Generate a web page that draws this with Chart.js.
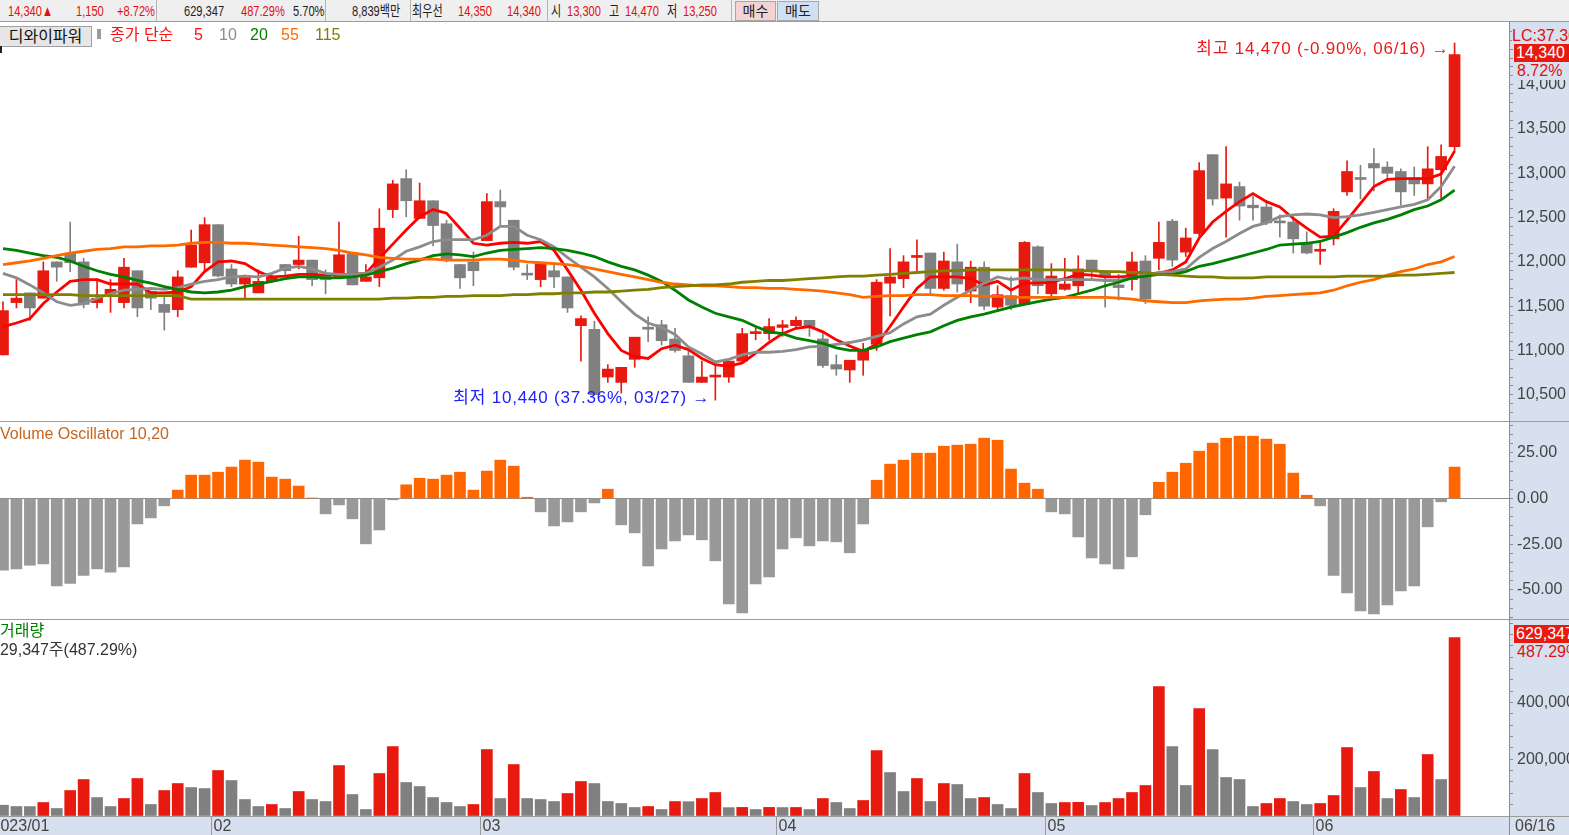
<!DOCTYPE html>
<html>
<head>
<meta charset="utf-8">
<title>디와이파워 일봉</title>
<style>
  body { margin:0; width:1569px; height:835px; overflow:hidden; position:relative; background:#fff;
         font-family:"Liberation Sans","Noto Sans CJK KR",sans-serif; }
  .t { position:absolute; white-space:nowrap; line-height:1; }
  #hdr { position:absolute; left:0; top:0; width:1569px; height:21px; background:#efefef; border-bottom:1px solid #9c9c9c; font-size:15px; }
  #hdr span { position:absolute; top:3px; white-space:nowrap; line-height:1; transform:scaleX(0.74); transform-origin:0 0; }
  .r { color:#e01010; } .k { color:#222; }
  .sep { position:absolute; top:0; width:1px; height:21px; background:#b4b4b4; }
  .btn { position:absolute; top:1px; height:18px; border:1px solid #a8a8a8; font-size:14px; line-height:18px; text-align:center; color:#222; }
  .axisbg { position:absolute; background:#d6e0ee; }
  .hl { position:absolute; left:0; width:1569px; height:1px; background:#9c9c9c; }
  canvas { position:absolute; left:0; }
</style>
</head>
<body>
<div id="hdr">
  <span class="r" style="left:8px">14,340▲</span>
  <span class="r" style="left:76px">1,150</span>
  <span class="r" style="left:117px">+8.72%</span>
  <div class="sep" style="left:156px"></div>
  <span class="k" style="left:184px">629,347</span>
  <span class="r" style="left:241px">487.29%</span>
  <span class="k" style="left:293px">5.70%</span>
  <div class="sep" style="left:325px"></div>
  <span class="k" style="left:352px">8,839백만</span>
  <div class="sep" style="left:410px"></div>
  <span class="k" style="left:412px">최우선</span>
  <span class="r" style="left:458px">14,350</span>
  <span class="r" style="left:507px">14,340</span>
  <div class="sep" style="left:547px"></div>
  <span class="k" style="left:551px">시</span>
  <span class="r" style="left:567px">13,300</span>
  <span class="k" style="left:609px">고</span>
  <span class="r" style="left:625px">14,470</span>
  <span class="k" style="left:667px">저</span>
  <span class="r" style="left:683px">13,250</span>
  <div class="sep" style="left:731px"></div>
  <div class="btn" style="left:735px;width:39px;background:#f3d3d3">매수</div>
  <div class="btn" style="left:777px;width:40px;background:#cfe0f4">매도</div>
</div>

<div class="axisbg" style="left:1509px;top:22px;width:60px;height:813px"></div>
<div class="axisbg" style="left:0;top:817px;width:1569px;height:18px"></div>

<canvas id="cMain" width="1569" height="398" style="top:23px"></canvas>
<canvas id="cOsc" width="1569" height="197" style="top:422px"></canvas>
<canvas id="cVol" width="1569" height="215" style="top:620px"></canvas>

<div class="hl" style="top:421px"></div>
<div class="hl" style="top:619px"></div>
<div class="hl" style="top:816px"></div>
<div style="position:absolute;left:1509px;top:22px;width:1px;height:813px;background:#8c8c8c"></div>

<!-- price panel legend -->
<div class="t" style="left:-1px;top:26px;width:91px;height:19px;border:1px solid #a0a0a0;background:#e6e6e6;font-size:16px;line-height:19px;text-align:center;color:#111">디와이파워</div>
<div style="position:absolute;left:97px;top:29px;width:4px;height:10px;background:#9a9a9a"></div>
<div style="position:absolute;left:0;top:46px;width:2px;height:7px;background:#222"></div>
<div class="t" style="left:110px;top:27px;font-size:16px;color:#ff1010">종가 단순</div>
<div class="t" style="left:194px;top:27px;font-size:16px;color:#ff1010">5</div>
<div class="t" style="left:219px;top:27px;font-size:16px;color:#8c8c8c">10</div>
<div class="t" style="left:250px;top:27px;font-size:16px;color:#008000">20</div>
<div class="t" style="left:281px;top:27px;font-size:16px;color:#ff6a00">55</div>
<div class="t" style="left:315px;top:27px;font-size:16px;color:#808000">115</div>

<!-- right side markers -->
<div class="t" style="left:1512px;top:24px;width:60px;height:16px;padding-top:4px;background:#d6e0ee;font-size:16px;color:#e01010">LC:37.36%</div>
<div class="t" style="left:1514px;top:44px;width:60px;height:18px;background:#e8190e;color:#fff;font-size:16px;line-height:18px;padding-left:2px">14,340</div>
<div class="t" style="left:1514px;top:62px;width:60px;height:18px;background:#d6e0ee;color:#e01010;font-size:16px;line-height:18px;padding-left:3px">8.72%</div>

<div class="t" style="left:0;top:426px;font-size:16px;color:#c8641e">Volume Oscillator 10,20</div>

<div class="t" style="left:0;top:623px;font-size:16px;color:#008000">거래량</div>
<div class="t" style="left:-9px;top:642px;font-size:16px;color:#333">629,347주(487.29%)</div>
<div class="t" style="left:1514px;top:625px;width:60px;height:18px;background:#e8190e;color:#fff;font-size:16px;line-height:18px;padding-left:2px">629,347</div>
<div class="t" style="left:1514px;top:643px;width:60px;height:17px;background:#d6e0ee;color:#e01010;font-size:16px;line-height:17px;padding-left:3px">487.29%</div>

<div class="t" style="left:1515px;top:818px;font-size:16px;color:#444">06/16</div>

<script src="https://cdn.jsdelivr.net/npm/chart.js"></script>
<script>
const YEAR = '2023';
const dates = [
  '01/06','01/09','01/10','01/11','01/12','01/13','01/16','01/17','01/18','01/19','01/20','01/25','01/26','01/27','01/30','01/31',
  '02/01','02/02','02/03','02/06','02/07','02/08','02/09','02/10','02/13','02/14','02/15','02/16','02/17','02/20','02/21','02/22','02/23','02/24','02/27','02/28',
  '03/02','03/03','03/06','03/07','03/08','03/09','03/10','03/13','03/14','03/15','03/16','03/17','03/20','03/21','03/22','03/23','03/24','03/27','03/28','03/29','03/30','03/31',
  '04/03','04/04','04/05','04/06','04/07','04/10','04/11','04/12','04/13','04/14','04/17','04/18','04/19','04/20','04/21','04/24','04/25','04/26','04/27','04/28',
  '05/02','05/03','05/04','05/08','05/09','05/10','05/11','05/12','05/15','05/16','05/17','05/18','05/19','05/22','05/23','05/24','05/25','05/26','05/30','05/31',
  '06/01','06/02','06/05','06/07','06/08','06/09','06/12','06/13','06/14','06/15','06/16'
];

// daily prices (won)
const open = [10950,11540,11650,11590,12000,12100,12000,11540,11640,11540, 11900,11670,11520,11460,11940,11990,12420,11920,11750,11650,
  11780,11970,11970,12020,11850,11830,12090,11780,11820,12590, 12940,12490,12690,12430,11970,12000,12240,12680,12470,11860,
  11800,11900,11830,11280,11240,10700,10640,10900,11250,11290, 11130,10940,10640,10700,10700,10880,11190,11190,11260,11280,
  11340,11130,10840,10780,10890,11070,11760,11810,12050,12100, 11700,12000,11670,11940,11490,11620,11520,12170,11640,11690,
  11730,12020,11900,11740,11800,12010,12040,12460,12110,12320, 13210,12720,12850,12640,12620,12450,12450,12200,12120,12260,
  12790,12950,13110,13070,13020,12950,12880,13040,13300];
const high = [11550,11800,11650,12000,12000,12450,12040,11810,11800,12040, 11900,11670,11620,11900,12360,12500,12420,11970,11850,11910,
  11850,11970,12290,12020,11910,12450,12090,11970,12600,12920, 13040,12890,12690,12470,11970,12110,12770,12810,12470,11970,
  11990,11990,11830,11390,11330,10840,10810,11150,11380,11340, 11250,10990,10880,10840,10880,11250,11250,11360,11340,11380,
  11340,11210,10950,10890,11080,11800,12150,12070,12250,12100, 12110,12200,12010,12000,11730,11830,12230,12180,11980,12040,
  12070,12020,11900,11860,12110,12070,12450,12480,12380,13120, 13210,13300,12900,12740,12680,12530,12510,12340,12230,12600,
  13140,13090,13280,13130,13050,13070,13300,13320,14470];
const low = [10950,11480,11340,11590,11780,11890,11480,11480,11430,11480, 11380,11460,11230,11380,11940,11900,11830,11720,11590,11650,
  11770,11830,11920,11730,11640,11830,11740,11780,11720,12500, 12510,12490,12180,12000,11700,11730,12240,12420,11910,11800,
  11720,11710,11430,10880,10500,10640,10520,10810,11100,11060, 10980,10640,10640,10440,10640,10880,11120,11120,11160,11240,
  11160,10810,10720,10640,10720,11000,11390,11710,11870,11630, 11680,11660,11540,11460,11440,11460,11520,11640,11570,11680,
  11630,11800,11490,11570,11680,11530,11910,11950,12060,12290, 12640,12280,12470,12470,12420,12280,12100,12090,11970,12190,
  12750,12710,12800,12940,12640,12750,12690,12720,13250];
const close = [11450,11590,11480,11900,11940,11990,11520,11590,11690,11940, 11480,11590,11430,11830,12190,12420,11840,11750,11830,11780,
  11830,11900,12020,11800,11800,12080,11740,11830,12380,12880, 12690,12690,12410,12030,11820,11900,12680,12620,11940,11850,
  11990,11830,11480,11360,10500,10790,10810,11150,11240,11110, 11000,10640,10700,10710,10880,11190,11200,11270,11290,11340,
  11270,10830,10790,10890,11010,11770,11830,12000,12060,11700, 12010,11750,11940,11500,11630,11510,12220,11730,11840,11750,
  11920,11890,11830,11710,12000,11580,12220,12020,12270,13030, 12710,12880,12630,12610,12440,12440,12260,12100,12130,12570,
  13020,12930,13060,13000,12790,12880,13050,13190,14340];

// moving averages
const ma5 = [11270,11310,11360,11530,11660,11780,11800,11800,11750,11750, 11750,11650,11650,11660,11720,11890,12000,12010,11980,11890,
  11830,11840,11860,11860,11850,11860,11860,11870,12040,12200, 12360,12510,12590,12550,12380,12210,12190,12210,12220,12210,
  12230,12130,11910,11680,11420,11190,11000,10930,10910,11020, 11060,11010,10910,10840,10820,10860,10970,11090,11190,11250,
  11270,11210,11120,11050,10990,11070,11270,11490,11700,11830, 11830,11830,11810,11740,11780,11680,11760,11760,11770,11810,
  11860,11850,11830,11830,11840,11840,11870,11910,12000,12270, 12450,12570,12680,12770,12680,12620,12490,12380,12280,12290,
  12470,12660,12850,12930,12940,12940,12940,12990,13250];
const ma10 = [11870,11820,11740,11650,11550,11510,11530,11590,11640,11680, 11690,11700,11690,11710,11750,11780,11800,11830,11840,11830,
  11870,11930,11950,11920,11870,11860,11860,11870,11940,12020, 12120,12170,12230,12250,12250,12250,12300,12400,12400,12300,
  12250,12170,12050,11940,11830,11700,11550,11410,11310,11260, 11180,11040,10960,10870,10900,10950,10980,10980,10990,11010,
  11040,11050,11070,11090,11120,11160,11200,11300,11380,11410, 11510,11600,11680,11760,11830,11800,11820,11800,11800,11800,
  11800,11800,11790,11790,11820,11850,11880,11890,11920,12050, 12150,12230,12320,12400,12440,12510,12530,12540,12530,12500,
  12510,12530,12560,12590,12620,12650,12700,12850,13080];
const ma20 = [12150,12130,12100,12070,12050,12010,11950,11900,11860,11830, 11790,11760,11720,11690,11660,11650,11660,11680,11720,11750,
  11780,11810,11830,11830,11820,11820,11830,11850,11890,11930, 11980,12020,12070,12090,12080,12060,12100,12130,12140,12150,
  12160,12150,12130,12100,12060,12000,11950,11910,11850,11780, 11680,11570,11490,11420,11380,11340,11270,11210,11190,11140,
  11110,11080,11030,11000,11000,11040,11100,11140,11180,11210, 11280,11340,11380,11410,11450,11490,11520,11550,11580,11600,
  11640,11680,11730,11770,11820,11840,11860,11860,11890,11950, 11980,12020,12060,12100,12140,12190,12200,12210,12230,12280,
  12330,12390,12440,12480,12530,12590,12630,12700,12810];
const ma55 = [11970,11990,12010,12040,12070,12100,12120,12140,12150,12170, 12170,12180,12180,12190,12210,12220,12220,12210,12210,12200,
  12190,12180,12170,12160,12150,12130,12100,12080,12050,12040, 12030,12030,12030,12020,12020,12020,12030,12030,12020,12000,
  11990,11980,11970,11950,11920,11890,11860,11830,11800,11770, 11750,11740,11730,11730,11720,11710,11710,11700,11700,11690,
  11680,11670,11650,11630,11600,11610,11620,11620,11630,11630, 11620,11620,11620,11610,11610,11600,11600,11600,11600,11600,
  11600,11600,11600,11590,11580,11560,11550,11540,11540,11560, 11570,11580,11580,11590,11610,11620,11630,11640,11650,11680,
  11730,11770,11800,11850,11890,11920,11970,12000,12060];
const ma115 = [11630,11630,11630,11630,11630,11630,11620,11620,11620,11620, 11620,11620,11620,11620,11580,11580,11580,11580,11580,11580,
  11580,11580,11580,11580,11580,11580,11580,11580,11580,11590, 11590,11600,11600,11610,11610,11620,11620,11620,11630,11630,
  11640,11640,11650,11650,11660,11660,11670,11680,11690,11710, 11720,11730,11740,11740,11750,11770,11780,11790,11790,11800,
  11810,11820,11830,11840,11840,11850,11860,11870,11880,11890, 11900,11900,11910,11910,11910,11910,11910,11910,11910,11910,
  11900,11900,11890,11890,11880,11880,11860,11850,11840,11830, 11830,11820,11820,11820,11830,11830,11830,11830,11830,11830,
  11840,11840,11840,11840,11850,11850,11860,11870,11880];

// Volume Oscillator 10,20 (%)
const volOsc = [-39.2,-38.5,-36.5,-35.8,-47.8,-46.4,-42.0,-38.5,-40.3,-37.4, -13.9,-10.6,-4.0,4.6,12.8,12.8,14.4,17.2,21.0,19.9,
  11.7,10.6,6.8,0.3,-8.4,-3.5,-11.1,-24.8,-17.2,-0.7, 7.5,11.1,10.6,12.8,14.4,4.6,15.0,21.0,17.7,0.7,
  -7.3,-15.0,-12.8,-7.3,-2.4,5.1,-14.4,-18.8,-36.9,-27.6, -23.2,-19.9,-22.6,-34.1,-57.7,-62.6,-46.7,-42.9,-27.6,-21.5,
  -25.9,-23.2,-23.7,-29.7,-13.9,10.0,18.8,21.0,24.8,24.8, 28.6,29.2,29.7,33.0,31.9,16.1,8.4,5.1,-7.3,-8.4,
  -21.0,-32.5,-35.8,-38.5,-31.9,-8.9,8.9,14.4,19.3,25.9, 30.3,33.0,34.1,34.1,32.5,29.7,13.9,1.8,-4.0,-42.0,
  -51.6,-61.5,-63.1,-58.2,-50.5,-47.8,-15.5,-1.8,17.2];

// traded shares
const volume = [38100,33500,33200,47600,26500,89900,128700,65200,33500,61700, 132300,40600,89900,114600,100500,97000,160500,125200,58200,33500,
  40600,26500,86400,58200,51100,178100,75800,22900,149900,245100, 118200,104000,65200,47600,33500,40600,234500,61700,181600,61700,
  58200,51100,79400,121700,114600,51100,44100,30000,33500,22900, 51100,50500,61700,82900,29600,30300,22900,30300,29800,30100,
  22900,61700,47600,26500,54700,231000,153400,86400,132300,51100, 114600,111100,61700,65200,40600,26500,149900,82900,44100,47600,
  48200,37000,47600,61700,82900,107600,456700,245100,107600,379100, 234500,135800,128700,33500,44100,61700,51100,40600,44100,72300,
  241600,100500,157000,61700,93500,65200,216900,128700,629347];

// labelled ticks on the three value axes
const priceLabels = [10500, 11000, 11500, 12000, 12500, 13000, 13500, 14000, 14500];
const oscLabels = [-50, -25, 0, 25];
const volLabels = [200000, 400000, 600000];

const FONT = '"Liberation Sans","Noto Sans CJK KR",sans-serif';
const RED = '#e8190e', GRAY = '#808080';
const X_MIN = -0.223, X_MAX = 112.05;

Chart.defaults.font.family = FONT;
Chart.defaults.animation = false;
Chart.defaults.plugins.legend.display = false;
Chart.defaults.plugins.tooltip.enabled = false;

function xAxis() {
  return { type: 'linear', min: X_MIN, max: X_MAX, offset: false, display: false };
}
// right-hand value axis: minor tick every `step`, text only on the labelled values
function yAxis(min, max, step, labels, fmt, zeroLine) {
  return {
    position: 'right', min: min, max: max,
    afterFit: s => { s.width = 60; s.paddingTop = 0; s.paddingBottom = 0; },
    afterBuildTicks: s => {
      const t = [];
      for (let v = Math.ceil(min / step) * step; v <= max; v += step) t.push({ value: v });
      s.ticks = t;
    },
    border: { display: false },
    grid: {
      drawOnChartArea: !!zeroLine, drawTicks: true, tickLength: 4, tickColor: '#8c8c8c',
      color: c => (zeroLine && c.tick && c.tick.value === 0) ? '#8c8c8c' : 'rgba(0,0,0,0)'
    },
    ticks: { autoSkip: false, padding: 4, color: '#444', font: { size: 16 },
             callback: v => labels.includes(v) ? fmt(v) : '' }
  };
}
function maLine(values, color) {
  return { type: 'line', data: values.map((v, i) => ({ x: i, y: v })), borderColor: color,
           borderWidth: 2.8, pointRadius: 0, tension: 0, order: 0 };
}

const candleColors = close.map((c, i) => c > open[i] ? RED : GRAY);

const extremes = {
  id: 'extremes',
  afterDatasetsDraw(chart) {
    const { ctx, scales: { x, y } } = chart;
    const hi = Math.max(...high), hiI = high.indexOf(hi);
    const lo = Math.min(...low), loI = low.indexOf(lo);
    const last = close[close.length - 1];
    const f = v => v.toLocaleString('en-US');
    ctx.save();
    ctx.font = '17px ' + FONT;
    ctx.letterSpacing = '0.8px';
    ctx.textAlign = 'right';
    ctx.textBaseline = 'middle';
    ctx.fillStyle = '#ee1a1a';
    ctx.fillText('최고 ' + f(hi) + ' (' + ((last - hi) / hi * 100).toFixed(2) + '%, ' + dates[hiI] + ') →',
                 x.getPixelForValue(hiI) - 5, y.getPixelForValue(hi) + 6);
    ctx.fillStyle = '#2020ff';
    ctx.fillText('최저 ' + f(lo) + ' (' + ((last - lo) / lo * 100).toFixed(2) + '%, ' + dates[loI] + ') →',
                 x.getPixelForValue(loI) - 5, y.getPixelForValue(lo) - 2);
    ctx.restore();
  }
};

new Chart(document.getElementById('cMain'), {
  type: 'bar',
  data: { datasets: [
    maLine(ma115, '#808000'),
    maLine(ma55, '#ff6a00'),
    maLine(ma20, '#008000'),
    maLine(ma10, '#8c8c8c'),
    maLine(ma5, '#ff0000'),
    { data: low.map((v, i) => ({ x: i, y: [v, high[i]] })), backgroundColor: candleColors,
      barThickness: 1, grouped: false, order: 2 },
    { data: open.map((v, i) => ({ x: i, y: [v, close[i]] })), backgroundColor: candleColors,
      barThickness: 11, grouped: false, minBarLength: 2, order: 1 }
  ]},
  options: {
    responsive: false, devicePixelRatio: 1, layout: { padding: 0 },
    scales: {
      x: xAxis(),
      y: yAxis(10204, 14696, 100, priceLabels, v => v.toLocaleString('en-US'))
    }
  },
  plugins: [extremes]
});

new Chart(document.getElementById('cOsc'), {
  type: 'bar',
  data: { datasets: [
    { data: volOsc.map((v, i) => ({ x: i, y: v })), backgroundColor: volOsc.map(v => v >= 0 ? '#ff6600' : '#999999'),
      barThickness: 11, grouped: false }
  ]},
  options: {
    responsive: false, devicePixelRatio: 1, layout: { padding: 0 },
    scales: {
      x: xAxis(),
      y: yAxis(-65.9, 41.85, 5, oscLabels, v => v.toFixed(2), true)
    }
  }
});

const monthStrip = {
  id: 'months',
  afterDraw(chart) {
    const { ctx, scales: { x } } = chart;
    const top = chart.chartArea.bottom;
    ctx.save();
    ctx.font = '16px ' + FONT;
    ctx.fillStyle = '#444';
    ctx.strokeStyle = '#9c9c9c';
    ctx.lineWidth = 1;
    ctx.textBaseline = 'middle';
    ctx.textAlign = 'left';
    dates.forEach((d, i) => {
      const m = d.slice(0, 2);
      if (i === 0) {
        ctx.fillText(YEAR + '/' + m, x.getPixelForValue(-1) + 2, top + 11);
      } else if (m !== dates[i - 1].slice(0, 2)) {
        const px = Math.round(x.getPixelForValue(i - 0.5)) + 0.5;
        ctx.beginPath();
        ctx.moveTo(px, top + 1);
        ctx.lineTo(px, chart.height);
        ctx.stroke();
        ctx.fillText(m, px + 2, top + 11);
      }
    });
    ctx.restore();
  }
};

new Chart(document.getElementById('cVol'), {
  type: 'bar',
  data: { datasets: [
    { data: volume.map((v, i) => ({ x: i, y: v })),
      backgroundColor: volume.map((v, i) => i > 0 && v > volume[i - 1] ? RED : GRAY),
      barThickness: 11, grouped: false }
  ]},
  options: {
    responsive: false, devicePixelRatio: 1, layout: { padding: { bottom: 19 } },
    scales: {
      x: xAxis(),
      y: yAxis(0, 691400, 40000, volLabels, v => v.toLocaleString('en-US'))
    }
  },
  plugins: [monthStrip]
});
</script>
</body>
</html>
